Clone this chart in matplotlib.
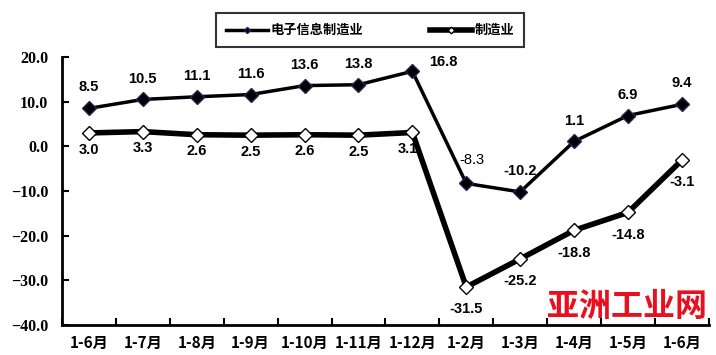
import matplotlib.pyplot as plt
from matplotlib.ticker import FuncFormatter

plt.rcParams['font.family'] = ['Noto Sans CJK SC', 'DejaVu Sans']

# Data
months = ["1-6月", "1-7月", "1-8月", "1-9月", "1-10月", "1-11月", "1-12月",
          "1-2月", "1-3月", "1-4月", "1-5月", "1-6月"]
electronics = [8.5, 10.5, 11.1, 11.6, 13.6, 13.8, 16.8, -8.3, -10.2, 1.1, 6.9, 9.4]
manufacturing = [3.0, 3.3, 2.6, 2.5, 2.6, 2.5, 3.1, -31.5, -25.2, -18.8, -14.8, -3.1]

fig = plt.figure(figsize=(7.16, 3.55), dpi=100)
ax = fig.add_axes([0.0866, 0.0845, 0.9034, 0.7549])

x = list(range(len(months)))
ax.plot(x, electronics, color="black", lw=2.5, marker="D", ms=7,
        mfc="black", mec="#24245a", label="电子信息制造业", zorder=3)
ax.plot(x, manufacturing, color="black", lw=4, marker="D", ms=7.5,
        mfc="white", mec="black", mew=1, label="制造业", zorder=3)

# Value labels (a few shifted as in the original)
for i, v in enumerate(electronics):
    off, ha, va, wt = (0, 10), "center", "bottom", "bold"
    if i == 6:
        off, ha, va = (12, 2), "left", "bottom"
    elif i == 7:
        off, wt = (4, 12), "normal"
    ax.annotate(f"{v:.1f}", (i, v), xytext=off, textcoords="offset points",
                ha=ha, va=va, fontsize=10.5, fontweight=wt,
                family="Liberation Sans")
for i, v in enumerate(manufacturing):
    dy = -7 if i < 7 else -11
    dx = -3 if i == 6 else 0
    ax.annotate(f"{v:.1f}", (i, v), xytext=(dx, dy), textcoords="offset points",
                ha="center", va="top", fontsize=10.5, fontweight="bold",
                family="Liberation Sans")

ax.set_xlim(-0.5, len(months) - 0.5)
ax.set_ylim(-40, 20)
ax.set_yticks(range(-40, 21, 10))
ax.yaxis.set_major_formatter(FuncFormatter(lambda v, p: f"{v:.1f}".replace("-", "\u2212")))
for lab in ax.get_yticklabels():
    lab.set_fontfamily("Liberation Serif")
    lab.set_fontweight("bold")
    lab.set_fontsize(11.5)

ax.set_xticks(x)
ax.set_xticklabels(months, fontsize=11, fontweight="bold")
ax.set_xticks([i + 0.5 for i in range(-1, len(months))], minor=True)
ax.tick_params(axis="x", which="major", length=0, pad=7)
ax.tick_params(axis="x", which="minor", direction="in", length=5, width=1.5)
ax.tick_params(axis="y", direction="in", length=5, width=1.5, pad=10)

for s in ["top", "right"]:
    ax.spines[s].set_visible(False)
ax.spines["left"].set_linewidth(2)
ax.spines["bottom"].set_linewidth(2)

leg = fig.legend(loc="center", bbox_to_anchor=(0.517, 0.915), ncol=2,
                 frameon=True, fancybox=False, edgecolor="black",
                 prop={"size": 9.5, "weight": "bold"}, handlelength=3.2,
                 handletextpad=0.2, markerscale=0.45, columnspacing=5,
                 borderpad=0.75, borderaxespad=0)
leg.get_frame().set_linewidth(1.5)

# Watermark
fig.text(0.875, 0.135, "亚洲工业网", color="#e8101e", fontsize=23,
         fontweight="black", ha="center", va="center")

fig.savefig("out.png", dpi=100)
